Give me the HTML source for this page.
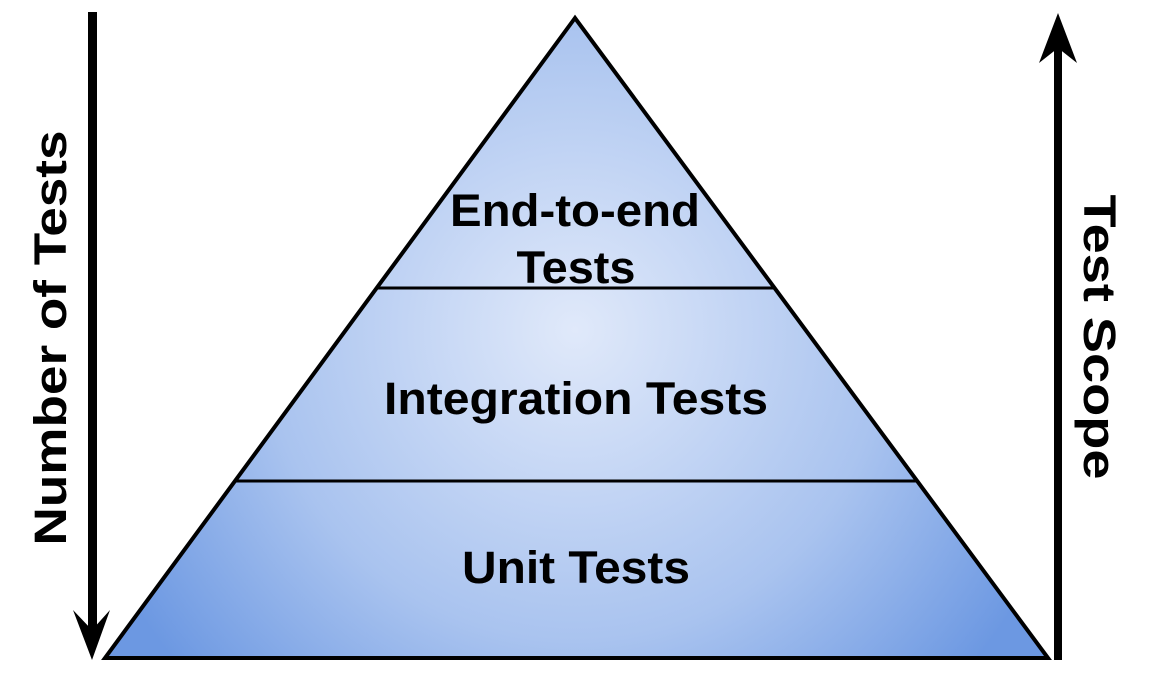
<!DOCTYPE html>
<html><head><style>body{margin:0;background:#fff}svg{display:block}</style></head><body>
<svg width="1149" height="679" viewBox="0 0 1149 679" xmlns="http://www.w3.org/2000/svg">
<defs>
<radialGradient id="g" gradientUnits="userSpaceOnUse" cx="575" cy="330" r="520">
<stop offset="0" stop-color="#e0e9fa"/>
<stop offset="0.6" stop-color="#a9c3ef"/>
<stop offset="1" stop-color="#6c98e2"/>
</radialGradient>
</defs>
<polygon points="575,18 105,658 1048,658" fill="url(#g)" stroke="#000" stroke-width="4" stroke-linejoin="miter"/>
<line x1="377" y1="288" x2="776" y2="288" stroke="#000" stroke-width="3"/>
<line x1="236" y1="481" x2="916" y2="481" stroke="#000" stroke-width="3"/>
<g font-family="Liberation Sans, sans-serif" font-weight="bold" font-size="45" text-anchor="middle" fill="#000" lengthAdjust="spacingAndGlyphs">
<text x="575" y="226" textLength="250" lengthAdjust="spacingAndGlyphs">End-to-end</text>
<text x="576" y="283" textLength="119" lengthAdjust="spacingAndGlyphs">Tests</text>
<text x="576" y="414" textLength="384" lengthAdjust="spacingAndGlyphs">Integration Tests</text>
<text x="576" y="583" textLength="228" lengthAdjust="spacingAndGlyphs">Unit Tests</text>
<text transform="translate(66,338) rotate(-90)" textLength="415" lengthAdjust="spacingAndGlyphs">Number of Tests</text>
<text transform="translate(1084,337) rotate(90)" textLength="285" lengthAdjust="spacingAndGlyphs">Test Scope</text>
</g>
<rect x="88" y="12" width="9" height="620" fill="#000"/>
<polygon points="92,660 73,610 92,630 110,610" fill="#000"/>
<rect x="1054" y="45" width="8" height="615" fill="#000"/>
<polygon points="1058,13 1039,63 1058,48 1077,63" fill="#000"/>
</svg>
</body></html>
